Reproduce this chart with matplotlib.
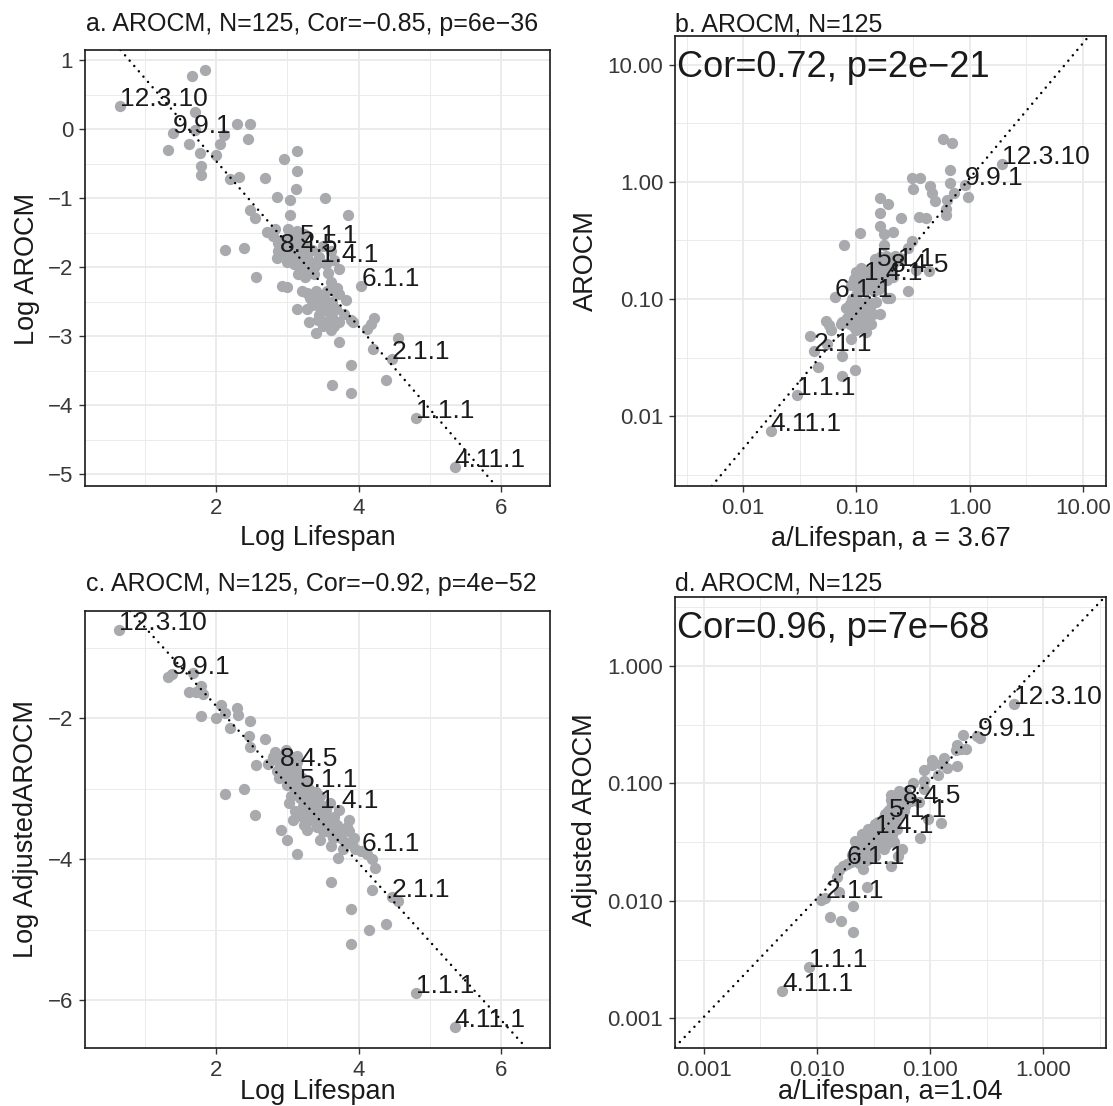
import numpy as np
import matplotlib
matplotlib.use("Agg")
import matplotlib.pyplot as plt
from matplotlib.ticker import FixedLocator

plt.rcParams['font.family'] = ['Liberation Sans', 'DejaVu Sans']

# panel a: log lifespan vs log AROCM
lifespan_a = [0.65, 1.66, 1.84, 1.70, 1.39, 1.33, 1.62, 1.70, 1.77, 1.79, 1.79, 2.00, 2.06, 2.11,
              2.30, 2.48, 2.45, 2.19, 2.32, 2.69, 2.96, 3.13, 3.13, 3.12, 2.85, 3.04, 3.53, 3.04,
              2.47, 2.55, 3.85, 2.71, 2.82, 3.01, 3.13, 3.23, 2.13, 2.39, 2.87, 2.85, 2.97, 3.09,
              3.13, 3.23, 3.32, 3.39, 3.44, 3.61, 3.66, 3.72, 3.18, 3.30, 2.56, 2.92, 2.99, 3.62,
              4.04, 3.21, 3.32, 3.42, 3.51, 3.63, 3.73, 3.82, 3.13, 3.27, 3.46, 3.43, 3.54, 3.63,
              3.73, 3.61, 3.40, 3.89, 4.12, 4.17, 4.22, 3.72, 4.20, 4.55, 4.47, 3.89, 4.38, 3.63,
              3.90, 4.81, 5.35, 3.18, 2.90, 3.455, 3.05, 3.15, 3.25, 3.35, 3.00, 2.93, 3.10, 3.20,
              3.50, 3.55, 3.38, 3.25, 3.50, 3.58, 3.68, 3.35, 3.30, 3.50, 3.66, 3.80, 3.05, 2.80,
              3.65, 3.40, 3.70, 3.45, 2.87, 3.08, 3.28, 3.57, 3.92, 3.28, 2.99, 3.15, 3.56]
log_arocm = [0.34, 0.77, 0.85, 0.24, -0.06, -0.30, -0.22, -0.02, -0.35, -0.53, -0.66, -0.38, -0.21, -0.09,
             0.08, 0.08, -0.14, -0.72, -0.70, -0.71, -0.43, -0.32, -0.61, -0.87, -0.99, -1.03, -1.00, -1.24,
             -1.17, -1.29, -1.25, -1.49, -1.45, -1.45, -1.47, -1.52, -1.75, -1.73, -1.77, -1.87, -1.80, -1.75,
             -1.89, -1.97, -1.93, -1.99, -1.85, -1.77, -1.90, -2.03, -2.04, -2.05, -2.15, -2.28, -2.29, -2.22,
             -2.27, -2.35, -2.45, -2.47, -2.43, -2.50, -2.39, -2.48, -2.60, -2.60, -2.59, -2.77, -2.79, -2.72,
             -2.79, -2.91, -2.95, -2.76, -2.90, -2.82, -2.74, -3.09, -3.19, -3.03, -3.33, -3.42, -3.64, -3.70,
             -3.82, -4.19, -4.90, -1.65, -1.775, -1.93, -1.55, -1.60, -1.70, -1.75, -1.65, -1.60, -1.95, -1.80,
             -1.70, -1.95, -2.10, -2.15, -2.55, -2.65, -2.60, -2.55, -2.80, -2.85, -2.85, -2.68, -1.70, -1.55,
             -2.35, -2.35, -2.30, -2.70, -1.65, -1.85, -1.85, -2.08, -2.80, -2.38, -1.92, -2.10, -2.35]

# panel c: log lifespan vs log adjusted AROCM
lifespan_c = [0.64, 1.33, 1.38, 1.68, 1.79, 1.62, 1.72, 1.82, 1.79, 2.00, 2.07, 2.12, 2.30, 2.31,
              2.47, 2.19, 2.46, 2.47, 2.69, 2.56, 2.39, 2.13, 2.55, 2.83, 2.73, 2.94, 3.13, 2.92,
              3.04, 2.99, 3.08, 3.23, 3.11, 3.18, 3.11, 3.27, 3.39, 3.32, 3.44, 3.53, 3.62, 3.72,
              3.86, 3.23, 3.27, 3.46, 3.62, 3.77, 3.81, 2.91, 2.99, 3.13, 3.62, 3.71, 3.91, 4.04,
              4.12, 4.19, 4.23, 3.62, 4.19, 4.47, 4.56, 3.90, 4.15, 4.38, 3.90, 4.81, 5.35, 2.90,
              3.18, 3.455, 2.80, 2.87, 2.97, 3.02, 3.06, 3.15, 3.20, 3.00, 3.10, 3.25, 3.30, 3.35,
              3.40, 3.50, 3.55, 3.58, 3.48, 3.38, 3.66, 3.70, 3.16, 3.05, 3.22, 2.95, 3.12, 3.28,
              3.56, 3.75, 3.86, 3.95, 3.42, 3.33, 3.19, 3.02, 2.88, 3.08, 3.64, 3.50, 3.78, 2.86,
              3.14, 3.34, 3.46, 3.60, 3.26, 3.07, 2.98, 3.40, 3.68, 3.53, 3.24, 3.84, 3.93]
log_adj_arocm = [-0.74, -1.42, -1.375, -1.36, -1.54, -1.63, -1.63, -1.65, -1.97, -2.00, -1.81, -1.92, -1.85, -1.95,
                 -2.04, -2.14, -2.25, -2.41, -2.29, -2.67, -3.00, -3.08, -3.37, -2.48, -2.65, -2.53, -2.53, -2.72,
                 -2.72, -2.84, -2.91, -2.94, -3.03, -3.13, -3.32, -3.18, -3.20, -3.30, -3.34, -3.39, -3.44, -3.30,
                 -3.44, -3.51, -3.58, -3.73, -3.63, -3.58, -3.75, -3.58, -3.73, -3.93, -3.81, -3.98, -3.78, -3.89,
                 -3.92, -4.00, -4.13, -4.33, -4.44, -4.54, -4.59, -4.70, -5.00, -4.92, -5.21, -5.90, -6.38, -2.68,
                 -2.97, -3.27, -2.55, -2.60, -2.62, -2.78, -2.65, -2.80, -2.85, -2.95, -2.85, -3.05, -3.00, -3.10,
                 -3.35, -3.25, -3.30, -3.50, -3.45, -3.40, -3.40, -3.52, -3.00, -3.10, -3.25, -2.75, -2.70, -3.38,
                 -3.60, -3.70, -3.60, -3.85, -3.55, -3.45, -3.38, -3.20, -2.85, -3.45, -3.70, -3.60, -3.86, -2.75,
                 -2.62, -3.20, -3.10, -3.20, -2.90, -2.55, -2.45, -3.05, -3.62, -3.48, -3.40, -3.55, -3.70]

# labelled species groups
label_names = ["12.3.10", "9.9.1", "5.1.1", "8.4.5", "1.4.1", "6.1.1", "2.1.1", "1.1.1", "4.11.1"]
label_lifespan = [0.65, 1.39, 3.18, 2.90, 3.455, 4.04, 4.47, 4.81, 5.35]
label_arocm = [0.34, -0.06, -1.65, -1.775, -1.93, -2.27, -3.33, -4.19, -4.90]
label_lifespan_c = [0.64, 1.38, 3.18, 2.90, 3.455, 4.04, 4.47, 4.81, 5.35]
label_adj = [-0.74, -1.375, -2.97, -2.68, -3.27, -3.89, -4.54, -5.90, -6.38]

a_b = 3.67
a_d = 1.04

# fitted dotted lines
fit_a = (1.931, -1.197)      # intercept, slope
fit_c = (0.404, -1.114)
fit_b = (0.029, 1.151)       # log10 intercept, log10 slope
fit_d = (0.040, 1.010)

W, H = 1113, 1106
fig = plt.figure(figsize=(W / 100, H / 100), dpi=100)

PT_COL = '#a9aaae'
TXT = '#1a1a1a'


def add_ax(l, t, r, b):
    return fig.add_axes([l / W, 1 - b / H, (r - l) / W, (b - t) / H])


def style(ax):
    ax.set_facecolor('white')
    for s in ax.spines.values():
        s.set_color('#1a1a1a')
        s.set_linewidth(1.2)
        s.set_zorder(5)
    ax.grid(True, which='major', color='#ebebeb', linewidth=1.4, zorder=0)
    ax.grid(True, which='minor', color='#ebebeb', linewidth=0.7, zorder=0)
    ax.set_axisbelow(True)
    ax.tick_params(which='major', length=4.5, width=1.0, color='#333333',
                   labelsize=16, labelcolor='#383838', pad=4)
    ax.tick_params(which='minor', length=0)


def ftext(x, y, s, **kw):
    fig.text(x / W, 1 - y / H, s, **kw)


def dotted(ax, p1, p2):
    ax.axline(p1, p2, color='black', linewidth=1.8, linestyle=(0, (0.01, 2.8)),
              dash_capstyle='round', zorder=3)


def labels(ax, xs, ys):
    for name, x, y in zip(label_names, xs, ys):
        ax.text(x, y, name, ha='left', va='baseline', fontsize=19, color=TXT, zorder=4)


# ---- panel a
ax = add_ax(85, 50, 550, 486)
style(ax)
ax.scatter(lifespan_a, log_arocm, s=66, color=PT_COL, linewidths=0, zorder=2)
dotted(ax, (0, fit_a[0]), (1, fit_a[0] + fit_a[1]))
labels(ax, label_lifespan, label_arocm)
ax.set_xlim(0.158, 6.69)
ax.set_ylim(-5.17, 1.145)
ax.set_xticks([2, 4, 6])
ax.set_yticks([-5, -4, -3, -2, -1, 0, 1])
ax.xaxis.set_minor_locator(FixedLocator([1, 3, 5]))
ax.yaxis.set_minor_locator(FixedLocator(np.arange(-4.5, 1, 1.0)))

# ---- panel c
ax = add_ax(85, 611, 550, 1048)
style(ax)
ax.scatter(lifespan_c, log_adj_arocm, s=66, color=PT_COL, linewidths=0, zorder=2)
dotted(ax, (0, fit_c[0]), (1, fit_c[0] + fit_c[1]))
labels(ax, label_lifespan_c, label_adj)
ax.set_xlim(0.158, 6.69)
ax.set_ylim(-6.68, -0.477)
ax.set_xticks([2, 4, 6])
ax.set_yticks([-6, -4, -2])
ax.xaxis.set_minor_locator(FixedLocator([1, 3, 5]))
ax.yaxis.set_minor_locator(FixedLocator([-5, -3, -1]))


def log_panel(box, xs, ys, lx, ly, fit, xlim, ylim, ticks, ticklabels, minors):
    ax = add_ax(*box)
    style(ax)
    ax.set_xscale('log')
    ax.set_yscale('log')
    ax.scatter(xs, ys, s=66, color=PT_COL, linewidths=0, zorder=2)
    dotted(ax, (0.01, 10 ** (fit[0] - 2 * fit[1])), (1.0, 10 ** fit[0]))
    for name, x, y in zip(label_names, lx, ly):
        ax.text(x, y, name, ha='left', va='baseline', fontsize=19, color=TXT, zorder=4)
    ax.set_xlim(10 ** xlim[0], 10 ** xlim[1])
    ax.set_ylim(10 ** ylim[0], 10 ** ylim[1])
    ax.set_xticks(ticks, ticklabels)
    ax.set_yticks(ticks, ticklabels)
    ax.xaxis.set_minor_locator(FixedLocator(minors))
    ax.yaxis.set_minor_locator(FixedLocator(minors))
    ax.xaxis.set_minor_formatter(plt.NullFormatter())
    ax.yaxis.set_minor_formatter(plt.NullFormatter())
    return ax


life_a = np.exp(np.array(lifespan_a))
life_c = np.exp(np.array(lifespan_c))

# ---- panel b
log_panel((675, 36, 1106, 486),
          a_b / life_a, np.exp(log_arocm),
          a_b / np.exp(label_lifespan), np.exp(label_arocm),
          fit_b, (-2.603, 1.205), (-2.593, 1.243),
          [0.01, 0.1, 1, 10], ["0.01", "0.10", "1.00", "10.00"],
          10 ** np.arange(-3.5, 2, 1.0))

# ---- panel d
log_panel((675, 597, 1106, 1048),
          a_d / life_c, np.exp(log_adj_arocm),
          a_d / np.exp(label_lifespan_c), np.exp(label_adj),
          fit_d, (-3.252, 0.552), (-3.252, 0.587),
          [0.001, 0.01, 0.1, 1], ["0.001", "0.010", "0.100", "1.000"],
          10 ** np.arange(-3.5, 1, 1.0))

# titles
ftext(86, 31.4, "a. AROCM, N=125, Cor=\u22120.85, p=6e\u221236", fontsize=18, color=TXT, va='baseline')
ftext(675, 31.4, "b. AROCM, N=125", fontsize=18, color=TXT, va='baseline')
ftext(86, 590.5, "c. AROCM, N=125, Cor=\u22120.92, p=4e\u221252", fontsize=18, color=TXT, va='baseline')
ftext(675, 590.5, "d. AROCM, N=125", fontsize=18, color=TXT, va='baseline')
ftext(677, 76.8, "Cor=0.72, p=2e\u221221", fontsize=26, color=TXT, va='baseline')
ftext(677, 637.5, "Cor=0.96, p=7e\u221268", fontsize=26, color=TXT, va='baseline')

# axis titles
ftext(317.5, 544.6, "Log Lifespan", fontsize=19.5, color=TXT, ha='center', va='baseline')
ftext(890.5, 546.5, "a/Lifespan, a = 3.67", fontsize=19.5, color=TXT, ha='center', va='baseline')
ftext(317.5, 1099, "Log Lifespan", fontsize=19.5, color=TXT, ha='center', va='baseline')
ftext(890.5, 1099, "a/Lifespan, a=1.04", fontsize=19.5, color=TXT, ha='center', va='baseline')
ftext(26.8, 268.5, "Log AROCM", fontsize=19.5, color=TXT, ha='center', va='center', rotation=90)
ftext(585.5, 260.7, "AROCM", fontsize=19.5, color=TXT, ha='center', va='center', rotation=90)
ftext(26.0, 829, "Log AdjustedAROCM", fontsize=19.5, color=TXT, ha='center', va='center', rotation=90)
ftext(585.5, 820, "Adjusted AROCM", fontsize=19.5, color=TXT, ha='center', va='center', rotation=90)

fig.savefig("out.png", dpi=100, facecolor='white')
